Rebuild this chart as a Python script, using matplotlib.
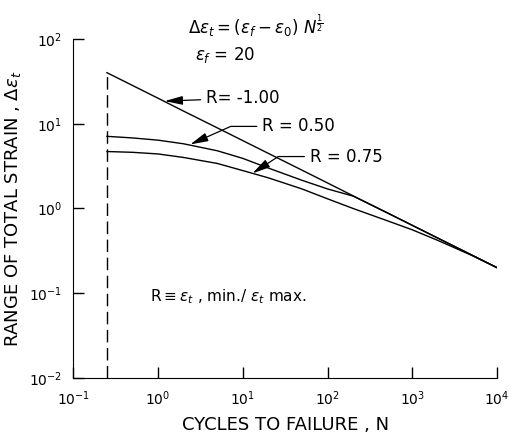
import numpy as np
import matplotlib
matplotlib.use("Agg")
import matplotlib.pyplot as plt

plt.rcParams['font.family'] = ['DejaVu Sans']
plt.rcParams['mathtext.fontset'] = 'dejavusans'

# values
cycles = [0.25, 0.5, 1, 2, 5, 10, 20, 50, 100, 200, 500, 1000, 2000, 5000, 10000]
r_m100 = [40.0, 28.3, 20.0, 14.1, 8.94, 6.32, 4.47, 2.83, 2.0, 1.41, 0.894, 0.632, 0.447, 0.283, 0.2]
r_050 = [7.1, 6.8, 6.4, 5.8, 4.8, 3.9, 3.0, 2.15, 1.7, 1.40, 0.894, 0.632, 0.447, 0.283, 0.2]
r_075 = [4.7, 4.6, 4.4, 4.0, 3.4, 2.8, 2.3, 1.7, 1.3, 1.0, 0.72, 0.56, 0.42, 0.28, 0.2]

fig = plt.figure(figsize=(5.12, 4.33), dpi=100)
ax = fig.add_axes([0.143, 0.127, 0.828, 0.783])

ax.plot(cycles, r_m100, color='black', lw=1.0)
ax.plot(cycles, r_050, color='black', lw=1.0)
ax.plot(cycles, r_075, color='black', lw=1.0)
ax.vlines(cycles[0], 1e-2, r_m100[0], colors='black', lw=1.0, linestyles=(0, (9, 4)))

ax.set_xscale('log')
ax.set_yscale('log')
ax.set_xlim(0.1, 1e4)
ax.set_ylim(1e-2, 1e2)

ax.set_xticks([0.1, 1, 10, 100, 1000, 10000])
ax.set_yticks([0.01, 0.1, 1, 10, 100])
ax.minorticks_off()
ax.tick_params(direction='in', length=8, width=1.0, labelsize=10, pad=8)
for s in ['top', 'right']:
    ax.spines[s].set_visible(False)

ax.set_xlabel('CYCLES TO FAILURE , N', fontsize=13, labelpad=6)
ax.set_ylabel(r'RANGE OF TOTAL STRAIN , $\Delta\epsilon_t$', fontsize=13, labelpad=4)

arrow = dict(arrowstyle='-|>,head_length=0.9,head_width=0.22', color='black', lw=0.9,
             shrinkA=2, shrinkB=0)
ax.annotate('R= -1.00', xy=(1.2, 18.5), xytext=(3.7, 20), fontsize=12,
            va='center', arrowprops=arrow)
ax.annotate('R = 0.50', xy=(2.4, 5.7), xytext=(17, 9.3), fontsize=12, va='center',
            arrowprops=dict(arrow, connectionstyle='angle,angleA=180,angleB=24,rad=0'))
ax.annotate('R = 0.75', xy=(13, 2.6), xytext=(62, 4.1), fontsize=12, va='center',
            arrowprops=dict(arrow, connectionstyle='angle,angleA=180,angleB=33,rad=0'))

fig.text(0.5, 0.942, r'$\Delta\epsilon_t = (\epsilon_f - \epsilon_0)\ N^{\frac{1}{2}}$',
         fontsize=12, ha='center', va='center')
fig.text(0.44, 0.872, r'$\epsilon_f$ = 20', fontsize=12, ha='center', va='center')
ax.text(0.8, 0.09, r'R$\equiv\epsilon_t$ , min./ $\epsilon_t$ max.', fontsize=11, va='center')

fig.savefig('out.png', dpi=100, facecolor='white')
